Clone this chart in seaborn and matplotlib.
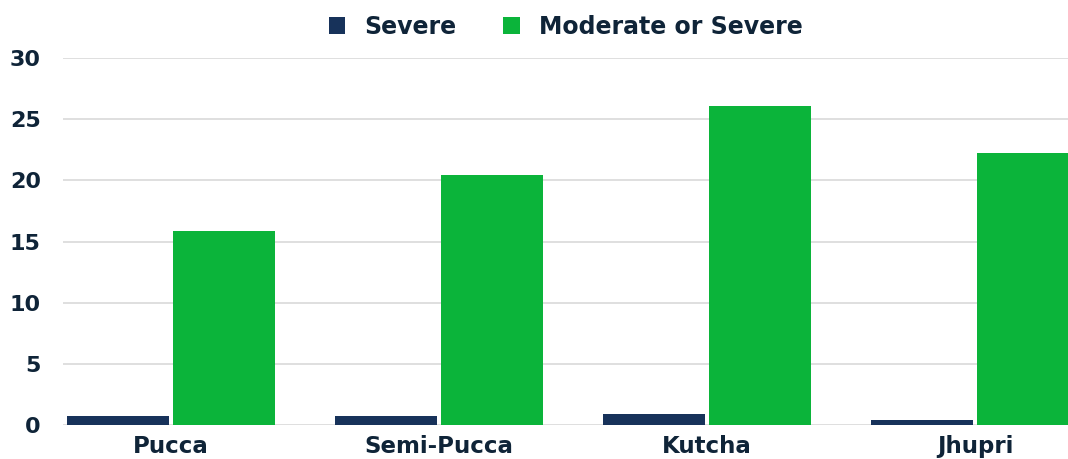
import pandas as pd
import matplotlib.pyplot as plt
import seaborn as sns

# Datos
tipos = ["Pucca", "Semi-Pucca", "Kutcha", "Jhupri"]
severo = [0.75, 0.7, 0.9, 0.4]
moderado_o_severo = [15.9, 20.4, 26.1, 22.2]
series = ["Severe", "Moderate or Severe"]

df = pd.DataFrame({
    "tipo": tipos * 2,
    "serie": [series[0]] * 4 + [series[1]] * 4,
    "valor": severo + moderado_o_severo,
})

sns.set_theme(style="white")
plt.rcParams["font.family"] = ["DejaVu Sans"]
texto = "#0f2438"

fig = plt.figure(figsize=(10.68, 4.59), dpi=100)
ax = fig.add_axes([0.059, 0.074, 0.941, 0.7996])

sns.barplot(data=df, x="tipo", y="valor", hue="serie", order=tipos, hue_order=series,
            palette=["#17325a", "#0bb43a"], width=0.79, gap=0.03, ax=ax,
            edgecolor="none", saturation=1, legend=True)

ax.set_ylim(0, 30)
ax.set_xlim(-0.403, 3.347)
ax.set_yticks([0, 5, 10, 15, 20, 25, 30])
ax.yaxis.grid(True, color="#d9d9d9", linewidth=1.2)
ax.set_axisbelow(True)
for s in ["top", "right", "left", "bottom"]:
    ax.spines[s].set_visible(False)
ax.set_xlabel("")
ax.set_ylabel("")
ax.tick_params(axis="y", length=0, pad=16, labelsize=16, labelcolor=texto)
ax.tick_params(axis="x", length=0, pad=7, labelsize=16.5, labelcolor=texto)
for lbl in ax.get_xticklabels() + ax.get_yticklabels():
    lbl.set_fontweight("bold")

ax.legend(loc="center", bbox_to_anchor=(0.5, 1.085), ncol=2, frameon=False,
          handlelength=0.7, handleheight=0.7, handletextpad=0.8, columnspacing=2.0,
          prop={"size": 17, "weight": "bold"}, labelcolor=texto)

fig.savefig("out.png", dpi=100)
